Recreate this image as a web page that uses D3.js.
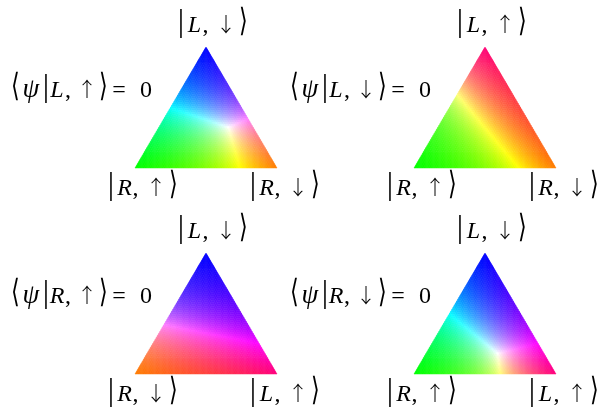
<!DOCTYPE html>
<html>
<head>
<meta charset="utf-8">
<script src="https://cdn.jsdelivr.net/npm/d3@7"></script>
<style>
body { margin: 0; background: #fff; }
svg { will-change: transform; }
text { font-family: "Liberation Serif", "DejaVu Serif", serif; fill: #000; }
</style>
</head>
<body>
<script>
const w = 600, h = 409;

// basis states, and the rgb each one carries (mixed by weight, then scaled so max channel = 1)
const states      = ["Lup", "Ldown", "Rup", "Rdown"];
const stateOrbit  = ["L", "L", "R", "R"];
const stateSpin   = ["↑", "↓", "↑", "↓"];
const stateColour = [[0.64, 0, 0.30], [0, 0, 1], [0, 1, 0], [0.69, 0.34, 0]];

// one panel per constraint <psi|X> = 0 ; corners are top, bottom-left, bottom-right
const panelExcluded = ["Lup", "Ldown", "Rup", "Rdown"];
const panelCorners  = [["Ldown", "Rup", "Rdown"], ["Lup", "Rup", "Rdown"],
                       ["Ldown", "Rdown", "Lup"], ["Ldown", "Rup", "Lup"]];
const panelCol = [0, 1, 0, 1];
const panelRow = [0, 0, 1, 1];

const N = 60; // mesh subdivisions per side

let colX = d3.scaleLinear().domain([0, 1]).range([135, 414]);   // bottom-left corner x
let rowY = d3.scaleLinear().domain([0, 1]).range([168, 374]);   // base line y
let uX = d3.scaleLinear().domain([0, 1]).range([0, 142]);
let vY = d3.scaleLinear().domain([0, 1]).range([0, -121]);

let svg = d3.select("body").append("svg")
  .attr("width", w)
  .attr("height", h);

function mix(idx, wts) {
  let c = [0, 0, 0];
  idx.forEach((k, i) => {
    for (let j = 0; j < 3; j++) c[j] += wts[i] * stateColour[k][j];
  });
  let m = d3.max(c) || 1;
  return d3.rgb(c[0] / m * 255, c[1] / m * 255, c[2] / m * 255);
}

// glyph, centre offset from first delimiter, kind (b = bar, d = angle, i = italic, p = psi, a = arrow, n = upright)
function ketGlyphs(o, s) {
  return [["|", 0, "b"], [o, 13.5, "i"], [",", 24.5, "n"], [s, 45, "a"], ["⟩", 62.5, "d"]];
}
function braGlyphs(o, s) {
  return [["⟨", 0, "d"], ["ψ", 16, "p"], ["|", 31, "b"], [o, 42, "i"], [",", 53, "n"],
          [s, 72, "a"], ["⟩", 88, "d"], ["=", 104, "n"], ["0", 131, "n"]];
}

let fontSize = { b: 32, d: 32, i: 24, p: 27, a: 20, n: 24 };
let fontFam  = { d: "'DejaVu Sans'", a: "'Noto Sans CJK JP'" };

function label(g, x, y, glyphs) {
  g.append("g").selectAll("text")
    .data(glyphs)
    .enter()
    .append("text")
    .attr("transform", d => {
      let ty = (d[2] == "b" || d[2] == "d") ? y - 1 : y;
      return "translate(" + (x + d[1]) + "," + ty + ")" + (d[2] == "d" ? " scale(0.7,1)" : "");
    })
    .attr("text-anchor", "middle")
    .attr("font-size", d => fontSize[d[2]])
    .attr("font-style", d => (d[2] == "i" || d[2] == "p") ? "italic" : "normal")
    .attr("font-weight", d => d[2] == "d" ? 200 : (d[2] == "a" ? 300 : null))
    .style("font-family", d => fontFam[d[2]] || null)
    .text(d => d[0]);
}

panelExcluded.forEach((ex, p) => {
  let x0 = colX(panelCol[p]), y0 = rowY(panelRow[p]);
  let idx = panelCorners[p].map(s => states.indexOf(s));
  let g = svg.append("g").attr("transform", "translate(" + x0 + "," + y0 + ")");

  // point from weights (top, bottom-right)
  let pt = (a, b) => [uX(b + a / 2), vY(a)];

  let cells = [];
  for (let i = 0; i < N; i++) {
    for (let j = 0; i + j < N; j++) {
      cells.push([[i, j], [i + 1, j], [i, j + 1]]);
      if (i + j + 2 <= N) cells.push([[i + 1, j], [i + 1, j + 1], [i, j + 1]]);
    }
  }

  g.selectAll("path.cell")
    .data(cells)
    .enter()
    .append("path")
    .attr("class", "cell")
    .attr("d", c => "M" + c.map(q => pt(q[0] / N, q[1] / N).join(",")).join("L") + "Z")
    .each(function (c) {
      let a = d3.mean(c, q => q[0]) / N, b = d3.mean(c, q => q[1]) / N;
      let col = mix(idx, [a, 1 - a - b, b]);
      d3.select(this).attr("fill", col).attr("stroke", col).attr("stroke-width", 0.5);
    });

  let top = panelCorners[p][0], bl = panelCorners[p][1], br = panelCorners[p][2];
  let k = states.indexOf(top);
  label(g, uX(0.5) - 25, vY(1) - 15, ketGlyphs(stateOrbit[k], stateSpin[k]));
  k = states.indexOf(bl);
  label(g, uX(0) - 24, 27, ketGlyphs(stateOrbit[k], stateSpin[k]));
  k = states.indexOf(br);
  label(g, uX(1) - 24, 27, ketGlyphs(stateOrbit[k], stateSpin[k]));
  k = states.indexOf(ex);
  label(g, uX(0.5) - 191, vY(1) + 50, braGlyphs(stateOrbit[k], stateSpin[k]));
});
</script>
</body>
</html>
